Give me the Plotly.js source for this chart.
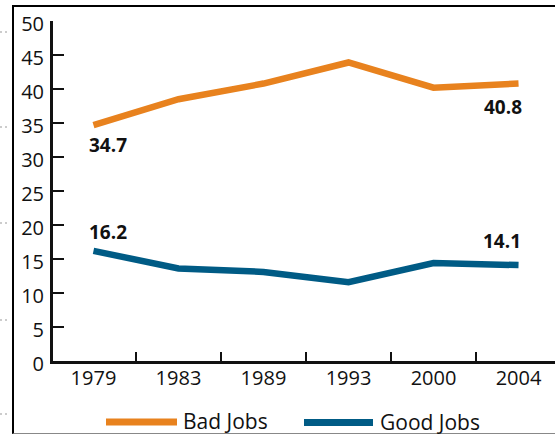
<!DOCTYPE html>
<html>
<head>
<meta charset="utf-8">
<script src="https://cdn.plot.ly/plotly-3.0.1.min.js"></script>
<style>
  html, body { margin: 0; padding: 0; background: #fff; }
  #frame {
    position: absolute; left: 12px; top: 5px; width: 600px; height: 426px;
    border-left: 2.5px solid #000; border-top: 2.5px solid #000;
    border-bottom: 1.5px solid #888;
  }
  .dots { position: absolute; left: 0; width: 7px; border-top: 2px dotted #ccc; }
  #chart { position: absolute; left: 0; top: 0; width: 555px; height: 435px; }
</style>
</head>
<body>
<div id="frame"></div>
<div class="dots" style="top:31px"></div>
<div class="dots" style="top:126px"></div>
<div class="dots" style="top:222px"></div>
<div class="dots" style="top:319px"></div>
<div class="dots" style="top:413px"></div>
<div id="chart"></div>
<script>
// Share of jobs by quality, selected years
const years = ['1979', '1983', '1989', '1993', '2000', '2004'];
const badJobs = [34.7, 38.5, 40.8, 43.9, 40.2, 40.8];
const goodJobs = [16.2, 13.6, 13.1, 11.6, 14.4, 14.1];
const seriesNames = ['Bad Jobs', 'Good Jobs'];
const yTicks = [0, 5, 10, 15, 20, 25, 30, 35, 40, 45, 50];

const ORANGE = '#E8821E';
const BLUE = '#005B85';
const FONT = 'Open Sans, Noto Sans, sans-serif';

const W = 555, H = 435;
const M = { l: 53, r: 0, t: 21, b: 74 };
const plotW = W - M.l - M.r, plotH = H - M.t - M.b;
// pixel helpers for the hand-drawn legend
const px = x => (x - M.l) / plotW;
const py = y => (H - M.b - y) / plotH;

const traces = [
  { x: years, y: badJobs, name: seriesNames[0], type: 'scatter', mode: 'lines',
    line: { color: ORANGE, width: 6.5 }, hoverinfo: 'skip' },
  { x: years, y: goodJobs, name: seriesNames[1], type: 'scatter', mode: 'lines',
    line: { color: BLUE, width: 6.5 }, hoverinfo: 'skip' }
];

// end-point value labels (category axis: x given as the category index)
const first = 0, last = years.length - 1;
const valueLabel = (i, v, dx, dy) => ({
  x: i, y: v, xref: 'x', yref: 'y', showarrow: false,
  text: '<b>' + v.toFixed(1) + '</b>', xshift: dx, yshift: dy,
  font: { family: FONT, size: 19, color: '#111' }
});

const annotations = [
  valueLabel(first, badJobs[first], 15, -20),
  valueLabel(last, badJobs[last], -16, -23),
  valueLabel(first, goodJobs[first], 15, 19),
  valueLabel(last, goodJobs[last], -17, 24),
  { xref: 'paper', yref: 'paper', x: px(181), y: py(421), xanchor: 'left', yanchor: 'middle',
    showarrow: false, text: seriesNames[0], font: { family: FONT, size: 21, color: '#111' } },
  { xref: 'paper', yref: 'paper', x: px(378), y: py(421.5), xanchor: 'left', yanchor: 'middle',
    showarrow: false, text: seriesNames[1], font: { family: FONT, size: 21, color: '#111' } }
];

const shapes = [
  { type: 'line', xref: 'paper', yref: 'paper', x0: px(106), x1: px(177), y0: py(422), y1: py(422),
    line: { color: ORANGE, width: 7 } },
  { type: 'line', xref: 'paper', yref: 'paper', x0: px(304), x1: px(373), y0: py(422.5), y1: py(422.5),
    line: { color: BLUE, width: 7 } }
];

const layout = {
  width: W, height: H,
  margin: M,
  paper_bgcolor: 'rgba(0,0,0,0)',
  plot_bgcolor: 'rgba(0,0,0,0)',
  showlegend: false,
  font: { family: FONT, color: '#111' },
  xaxis: {
    type: 'category', range: [-0.476, 5.429], fixedrange: true,
    tickson: 'boundaries', ticks: 'inside', ticklen: 9, tickwidth: 2.5, tickcolor: '#111',
    ticklabelstandoff: -3,
    showline: true, linecolor: '#111', linewidth: 3,
    showgrid: false, zeroline: false,
    tickfont: { family: FONT, size: 20, color: '#111' }
  },
  yaxis: {
    range: [0, 50], fixedrange: true,
    tickvals: yTicks, ticktext: yTicks.map(String),
    ticks: 'inside', ticklen: 11, tickwidth: 2.5, tickcolor: '#111',
    ticklabelstandoff: 2, ticklabelshift: 3,
    showline: true, linecolor: '#111', linewidth: 3,
    showgrid: false, zeroline: false,
    tickfont: { family: FONT, size: 20, color: '#111' }
  },
  annotations: annotations,
  shapes: shapes
};

Plotly.newPlot('chart', traces, layout, { staticPlot: true, displayModeBar: false });
</script>
</body>
</html>
